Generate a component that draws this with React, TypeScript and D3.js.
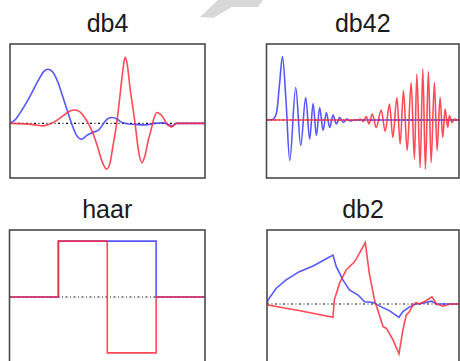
import React from 'react';
import * as d3 from 'd3';

// panel titles
const titles = ['db4', 'db42', 'haar', 'db2'];

// db4: scaling function (blue) and wavelet (red)
const db4Phi: [number, number][] = [
  [0, 0], [0.18, 0.07], [0.43, 0.27], [0.72, 0.55], [1.0, 0.85], [1.22, 1.05], [1.37, 1.09],
  [1.54, 1.03], [1.72, 0.83], [1.9, 0.53], [2.05, 0.27], [2.21, 0], [2.37, -0.22], [2.57, -0.32],
  [2.76, -0.24], [2.98, -0.18], [3.19, -0.13], [3.37, 0.01], [3.52, 0.1], [3.66, 0.12], [3.84, 0.09],
  [3.98, 0.03], [4.16, 0], [4.49, -0.02], [4.85, -0.03], [5.2, 0], [5.46, 0.01], [5.64, -0.01],
  [5.81, -0.05], [5.99, 0], [7, 0],
];
const db4Psi: [number, number][] = [
  [0, 0], [0.54, -0.01], [0.9, -0.03], [1.18, -0.05], [1.44, -0.01], [1.65, 0.05], [1.9, 0.15],
  [2.15, 0.25], [2.33, 0.27], [2.51, 0.23], [2.69, 0.11], [2.81, 0], [2.98, -0.2], [3.16, -0.5],
  [3.3, -0.76], [3.47, -0.92], [3.59, -0.8], [3.7, -0.44], [3.83, 0], [3.95, 0.57], [4.06, 1.11],
  [4.13, 1.33], [4.2, 1.22], [4.31, 0.71], [4.49, 0], [4.61, -0.54], [4.73, -0.79], [4.85, -0.64],
  [4.96, -0.35], [5.06, -0.14], [5.17, 0.11], [5.29, 0.22], [5.38, 0.19], [5.46, 0.15], [5.62, 0],
  [5.8, -0.07], [5.98, 0], [7, 0],
];

// db42
const db42Phi: [number, number][] = [
  [0, 0], [2.58, 0.01], [4.3, 0.14], [5.59, 0.7], [6.88, 1.27], [8.39, 0.4], [10.02, -0.81],
  [12.6, 0.65], [14.75, -0.51], [16.9, 0.45], [18.62, -0.38], [20.09, 0.33], [21.51, -0.31],
  [22.92, 0.25], [24.39, -0.21], [25.81, 0.15], [27.23, -0.15], [28.69, 0.1], [30.11, -0.08],
  [31.53, 0.05], [33.12, -0.05], [34.62, 0.02], [36.13, -0.02], [37.85, 0], [83, 0],
];
const db42Psi: [number, number][] = [
  [0, 0], [39.57, 0], [40.43, 0.02], [41.72, -0.03], [43.01, 0.07], [44.17, -0.08], [45.59, 0.12],
  [47.31, -0.15], [49.46, 0.2], [51.18, -0.23], [53.03, 0.32], [54.49, -0.35], [56.22, 0.45],
  [57.63, -0.48], [59.05, 0.59], [60.65, -0.61], [62.37, 0.75], [63.78, -0.78], [64.82, 0.92],
  [66.24, -0.95], [67.4, 1.02], [68.52, -0.98], [69.81, 0.97], [70.97, -0.85], [72.39, 0.75],
  [73.55, -0.61], [74.84, 0.45], [76.0, -0.35], [76.99, 0.22], [78.15, -0.15], [78.84, 0.09],
  [80.0, -0.05], [81.08, 0.02], [82.15, 0], [83, 0],
];

// haar
const haarPhi: [number, number][] = [[-0.5, 0], [0, 0], [0, 1], [1, 1], [1, 0], [1.5, 0]];
const haarPsi: [number, number][] = [
  [-0.5, 0], [0, 0], [0, 1], [0.5, 1], [0.5, -1], [1, -1], [1, 0], [1.5, 0],
];

// db2
const db2Phi: [number, number][] = [
  [0, 0], [0.015, 0.11], [0.14, 0.44], [0.29, 0.67], [0.49, 0.9], [0.7, 1.06], [0.87, 1.23],
  [1.0, 1.36], [1.05, 1.04], [1.15, 0.67], [1.25, 0.39], [1.38, 0.25], [1.48, 0.06], [1.61, 0.04],
  [1.71, -0.06], [1.86, -0.19], [2.0, -0.37], [2.06, -0.21], [2.16, -0.08], [2.26, 0], [2.36, 0.02],
  [2.49, 0.08], [2.57, 0], [2.91, 0],
];
const db2Psi: [number, number][] = [
  [0, 0], [0.015, -0.03], [0.5, -0.19], [1.0, -0.37], [1.02, 0.11], [1.1, 0.58], [1.2, 0.95],
  [1.33, 1.18], [1.4, 1.41], [1.49, 1.71], [1.55, 0.86], [1.63, 0.11], [1.71, -0.35], [1.76, -0.63],
  [1.81, -0.68], [1.91, -1.0], [2.0, -1.39], [2.06, -0.72], [2.11, -0.31], [2.16, -0.21],
  [2.21, -0.03], [2.26, 0.04], [2.31, 0], [2.41, 0.09], [2.5, 0.2], [2.57, 0], [2.67, -0.06],
  [2.78, 0], [2.91, 0],
];

const blue = '#3a3aff';
const red = '#ff2a3a';

function Panel({ title, x, y, w, h, xDom, yDom, phi, psi, smooth }) {
  const xs = d3.scaleLinear().domain(xDom).range([x, x + w]);
  const ys = d3.scaleLinear().domain(yDom).range([y + h, y]);
  const line = d3.line<[number, number]>()
    .x(d => xs(d[0]))
    .y(d => ys(d[1]))
    .curve(smooth ? d3.curveMonotoneX : d3.curveLinear);
  const clipId = 'clip_' + title;
  return (
    <g>
      <text x={x + w / 2} y={y - 12} textAnchor="middle" fontFamily="Liberation Sans, Arial, sans-serif"
        fontSize={25} fill="#1a1a1a">{title}</text>
      <clipPath id={clipId}>
        <rect x={x} y={y} width={w} height={h} />
      </clipPath>
      <g clipPath={`url(#${clipId})`}>
        <line x1={xs(xDom[0])} x2={xs(xDom[1])} y1={ys(0)} y2={ys(0)}
          stroke="#111" strokeWidth={1.2} strokeDasharray="2,2.5,1,2.5" />
        <path d={line(phi)} fill="none" stroke={blue} strokeWidth={1.6} strokeOpacity={0.85} />
        <path d={line(psi)} fill="none" stroke={red} strokeWidth={1.6} strokeOpacity={0.85} />
      </g>
      <rect x={x} y={y} width={w} height={h} fill="none" stroke="#4a4a4a" strokeWidth={1.6} />
    </g>
  );
}

export default function App() {
  return (
    <svg width={460} height={361} style={{ position: 'absolute', left: 0, top: 0, background: '#fff' }}>
      {/* faint watermark fragment */}
      <polygon points="218,0 263,0 258,7 232,7 213,18 200,17" fill="#d8d8d8" />
      <Panel title={titles[0]} x={10} y={44} w={195} h={134} xDom={[0, 7]} yDom={[-1.1, 1.6]}
        phi={db4Phi} psi={db4Psi} smooth />
      <Panel title={titles[1]} x={266.5} y={44} w={192.5} h={134} xDom={[0, 83]} yDom={[-1.16, 1.52]}
        phi={db42Phi} psi={db42Psi} smooth />
      <Panel title={titles[2]} x={9.5} y={230} w={195.5} h={134} xDom={[-0.5, 1.5]} yDom={[-1.2, 1.2]}
        phi={haarPhi} psi={haarPsi} smooth={false} />
      <Panel title={titles[3]} x={267} y={230} w={192} h={134} xDom={[0, 2.91]} yDom={[-1.67, 2.06]}
        phi={db2Phi} psi={db2Psi} smooth={false} />
    </svg>
  );
}
